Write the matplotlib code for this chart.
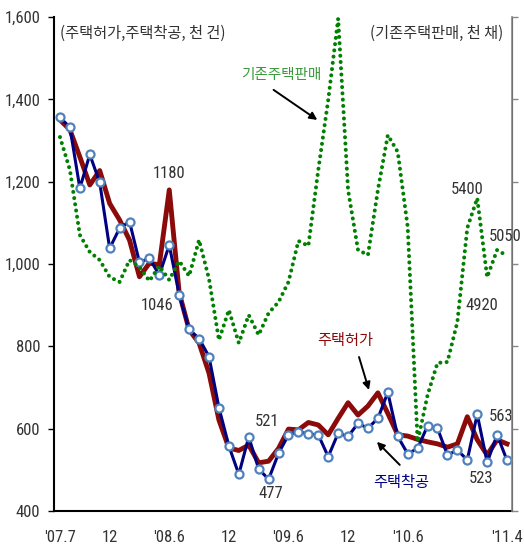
import matplotlib
matplotlib.use('Agg')
import matplotlib.pyplot as plt
from matplotlib import font_manager
import numpy as np

### Data (monthly, '07.7 ~ '11.4)
tick_idx = [0, 5, 11, 17, 23, 29, 35, 45]
tick_labels = ["'07.7", '12', "'08.6", '12', "'09.6", '12', "'10.6", "'11.4"]

# housing permits, thousand units
permits = [1350, 1326, 1260, 1192, 1227, 1147, 1107, 1058, 969, 1002, 998, 1180,
           930, 840, 808, 735, 621, 553, 547, 560, 517, 521, 552, 599,
           597, 615, 609, 585, 625, 663, 633, 655, 687, 637, 585, 582,
           574, 568, 563, 555, 563, 629, 573, 536, 573, 563]
# housing starts, thousand units
starts = [1356, 1332, 1184, 1266, 1198, 1038, 1087, 1103, 1004, 1014, 973, 1046,
          925, 841, 819, 775, 651, 558, 489, 580, 502, 477, 540, 585,
          593, 587, 585, 532, 589, 581, 613, 601, 625, 688, 581, 539,
          552, 607, 601, 536, 548, 524, 635, 518, 585, 523]
# existing home sales, thousand units (right axis)
sales = [5771, 5571, 5176, 5073, 5024, 4921, 4891, 5024, 4982, 4897, 4988, 4903,
         5018, 4927, 5146, 4910, 4538, 4721, 4520, 4690, 4569, 4702, 4769, 4891,
         5140, 5110, 5571, 5996, 6490, 5449, 5085, 5055, 5449, 5783, 5680, 5225,
         3920, 4204, 4399, 4405, 4648, 5219, 5400, 4920, 5085, 5050]

x = np.arange(len(permits))

### Fonts -- narrow font for numbers if one is around
def pick_font(names):
    for n in names:
        try:
            font_manager.findfont(n, fallback_to_default=False)
            return n
        except ValueError:
            pass
    return None

num_font = pick_font(['Liberation Sans Narrow', 'DejaVu Sans Condensed', 'Roboto Condensed'])
if num_font is None:
    num_font = 'Liberation Sans'
    num_size = 10.5
else:
    num_size = 12
plt.rcParams['font.family'] = [num_font, 'Noto Sans CJK KR', 'DejaVu Sans']
kr = ['Noto Sans CJK KR', 'DejaVu Sans']
num_color = '#333333'

fig = plt.figure(figsize=(5.24, 5.52), dpi=100)
ax = fig.add_axes([0.1031, 0.0743, 0.874, 0.8949])
ax2 = ax.twinx()

### Lines
ax.plot(x, permits, color='#8B0A0A', lw=3.5, solid_joinstyle='round', zorder=2)
ax.plot(x, starts, color='#000080', lw=2.2, marker='o', ms=5.8, mfc='white',
        mec='#4F81BD', mew=1.6, zorder=3)
ax2.plot(x, sales, color='#008000', lw=2.9, linestyle=(0, (0.01, 1.55)),
         dash_capstyle='round', zorder=4)

### Axes
ax.set_xlim(-0.6, 45.5)
ax.set_ylim(400, 1600)
ax2.set_ylim(3500, 6500)
ax.set_yticks(np.arange(400, 1601, 200))
ax.set_yticklabels(['{:,}'.format(v) for v in range(400, 1601, 200)], fontsize=num_size, color=num_color)
ax2.set_yticks(np.arange(3500, 6501, 500))
ax2.set_yticklabels(['{:,}'.format(v) for v in range(3500, 6501, 500)], fontsize=num_size)
ax.set_xticks(tick_idx)
ax.set_xticklabels(tick_labels, fontsize=num_size, color=num_color)
ax.tick_params(axis='x', length=0, pad=14)
ax.tick_params(axis='y', length=4, width=1, pad=6)
ax2.tick_params(axis='y', length=4, width=1, colors='#888888', pad=4)
for t in ax2.get_yticklabels():
    t.set_color(num_color)

for a in (ax, ax2):
    a.spines['top'].set_visible(False)
ax.spines['left'].set_linewidth(1.5)
ax.spines['bottom'].set_linewidth(1.5)
ax2.spines['left'].set_visible(False)
ax2.spines['bottom'].set_visible(False)
ax2.spines['right'].set_color('#888888')
ax2.spines['right'].set_linewidth(1.2)

### Unit captions
ax.text(0.013, 0.985, '(주택허가,주택착공, 천 건)', transform=ax.transAxes, family=kr,
        fontsize=11, color='#333333', ha='left', va='top')
ax.text(0.98, 0.985, '(기존주택판매, 천 채)', transform=ax.transAxes, family=kr,
        fontsize=11, color='#333333', ha='right', va='top')

### Series names with arrows
arrow = dict(arrowstyle='-|>', color='black', lw=1.4, shrinkA=0, shrinkB=0, mutation_scale=11)
ax.text(22.3, 1459, '기존주택판매', family=kr, fontsize=10.5, color='#3A9A3A',
        ha='center', va='center')
ax.annotate('', xy=(25.9, 1350), xytext=(21.5, 1423), arrowprops=arrow)
ax.text(28.75, 815, '주택허가', family=kr, fontsize=11, color='#8B0A0A',
        ha='center', va='center')
ax.annotate('', xy=(31.1, 694), xytext=(30.1, 774), arrowprops=arrow)
ax.text(34.3, 470, '주택착공', family=kr, fontsize=11, color='#000080',
        ha='center', va='center')
ax.annotate('', xy=(31.9, 568), xytext=(34.2, 512), arrowprops=arrow)

### Value labels
ax.text(11.0, 1220, '1180', fontsize=num_size, color=num_color, ha='center', va='center')
ax.text(9.8, 900, '1046', fontsize=num_size, color=num_color, ha='center', va='center')
ax.text(20.8, 617, '521', fontsize=num_size, color=num_color, ha='center', va='center')
ax.text(21.2, 443, '477', fontsize=num_size, color=num_color, ha='center', va='center')
ax.text(44.4, 630, '563', fontsize=num_size, color=num_color, ha='center', va='center')
ax.text(42.4, 478, '523', fontsize=num_size, color=num_color, ha='center', va='center')
ax2.text(41.0, 5450, '5400', fontsize=num_size, color=num_color, ha='center', va='center')
ax2.text(44.8, 5170, '5050', fontsize=num_size, color=num_color, ha='center', va='center')
ax2.text(42.5, 4750, '4920', fontsize=num_size, color=num_color, ha='center', va='center')

plt.savefig('out.png', dpi=100)
